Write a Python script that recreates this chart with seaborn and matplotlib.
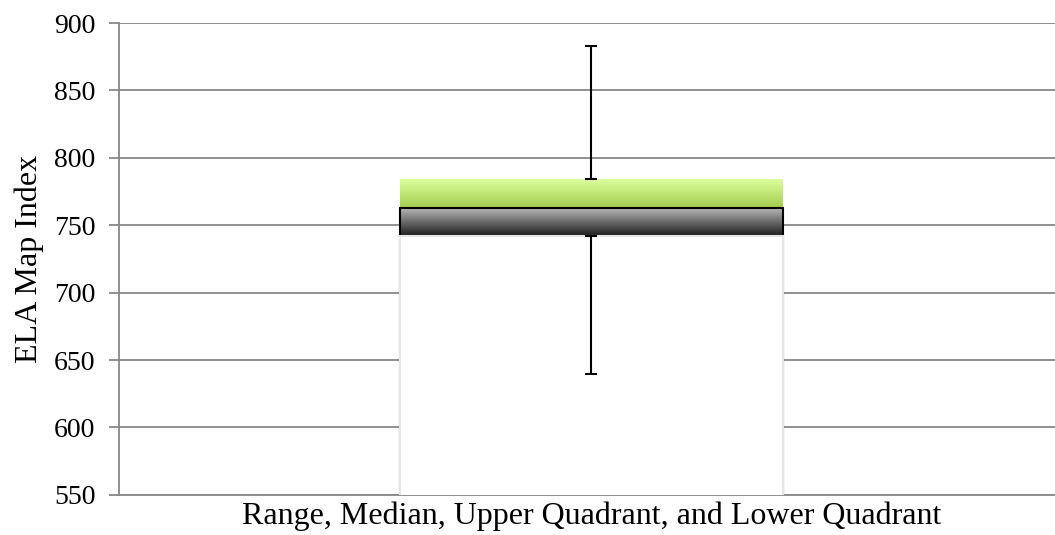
import matplotlib
matplotlib.use("Agg")
import matplotlib.pyplot as plt
import seaborn as sns
import numpy as np
from matplotlib.colors import LinearSegmentedColormap

# box plot summary values
category = ["Range, Median, Upper Quadrant, and Lower Quadrant"]
low = [640]
q1 = [742]
median = [763]
q3 = [784]
high = [883]
yticks = [550, 600, 650, 700, 750, 800, 850, 900]

sns.set_style("white")
plt.rcParams["font.family"] = ["Liberation Serif", "DejaVu Serif"]
plt.rcParams["text.color"] = "black"
plt.rcParams["axes.labelcolor"] = "black"
plt.rcParams["ytick.labelcolor"] = "black"

fig = plt.figure(figsize=(10.55, 5.35), dpi=100)
ax = fig.add_axes([0.113, 0.075, 0.895, 0.882])

# stacked look: draw tallest first, then overlay
sns.barplot(x=category, y=q3, color="#b8e070", width=0.405, ax=ax,
            edgecolor="none", zorder=2)
sns.barplot(x=category, y=median, color="#808080", width=0.405, ax=ax,
            edgecolor="black", linewidth=1.5, zorder=3)
sns.barplot(x=category, y=q1, color="white", width=0.405, ax=ax,
            edgecolor="#e6e6e6", linewidth=1.5, zorder=4)

green_p, gray_p, base_p = ax.patches[0], ax.patches[1], ax.patches[2]

def fill_gradient(patch, y0, y1, top, bottom, z):
    x0 = patch.get_x()
    x1 = x0 + patch.get_width()
    cmap = LinearSegmentedColormap.from_list("g", [bottom, top])
    grad = np.linspace(0, 1, 256).reshape(-1, 1)
    im = ax.imshow(grad, extent=[x0, x1, y0, y1], origin="lower", aspect="auto",
                   cmap=cmap, zorder=z)
    im.set_clip_path(patch)

fill_gradient(green_p, median[0], q3[0], "#dcff9e", "#a3cb4e", 2.5)
fill_gradient(gray_p, q1[0], median[0], "#bcbcbc", "#1c1c1c", 3.2)
# outline of the gray box above its gradient; the white base hides the rest
gray_p.set_facecolor("none")
gray_p.set_zorder(3.6)

# whiskers
ax.errorbar(0, q3[0], yerr=[[0], [high[0] - q3[0]]], fmt="none", ecolor="black",
            elinewidth=1.5, capsize=4.5, capthick=1.5, zorder=6)
ax.errorbar(0, q1[0], yerr=[[q1[0] - low[0]], [0]], fmt="none", ecolor="black",
            elinewidth=1.5, capsize=4.5, capthick=1.5, zorder=6)

ax.set_xlim(-0.5, 0.5)
ax.set_ylim(550, 900)
ax.set_yticks(yticks)
ax.set_xticks([])
ax.yaxis.grid(True, color="#888888", linewidth=1.3)
ax.set_axisbelow(True)

for s in ["top", "right"]:
    ax.spines[s].set_visible(False)
for s in ["left", "bottom"]:
    ax.spines[s].set_color("#888888")
    ax.spines[s].set_linewidth(1.3)

ax.tick_params(axis="y", length=7, width=1.3, color="#888888", direction="out",
               left=True, labelsize=20, pad=10)
ax.set_ylabel("ELA Map Index", fontsize=23)
ax.set_xlabel(category[0], fontsize=23)
ax.yaxis.set_label_coords(-0.08, 0.5)
ax.xaxis.set_label_coords(0.5, -0.015)

fig.savefig("out.png", dpi=100, facecolor="white")
